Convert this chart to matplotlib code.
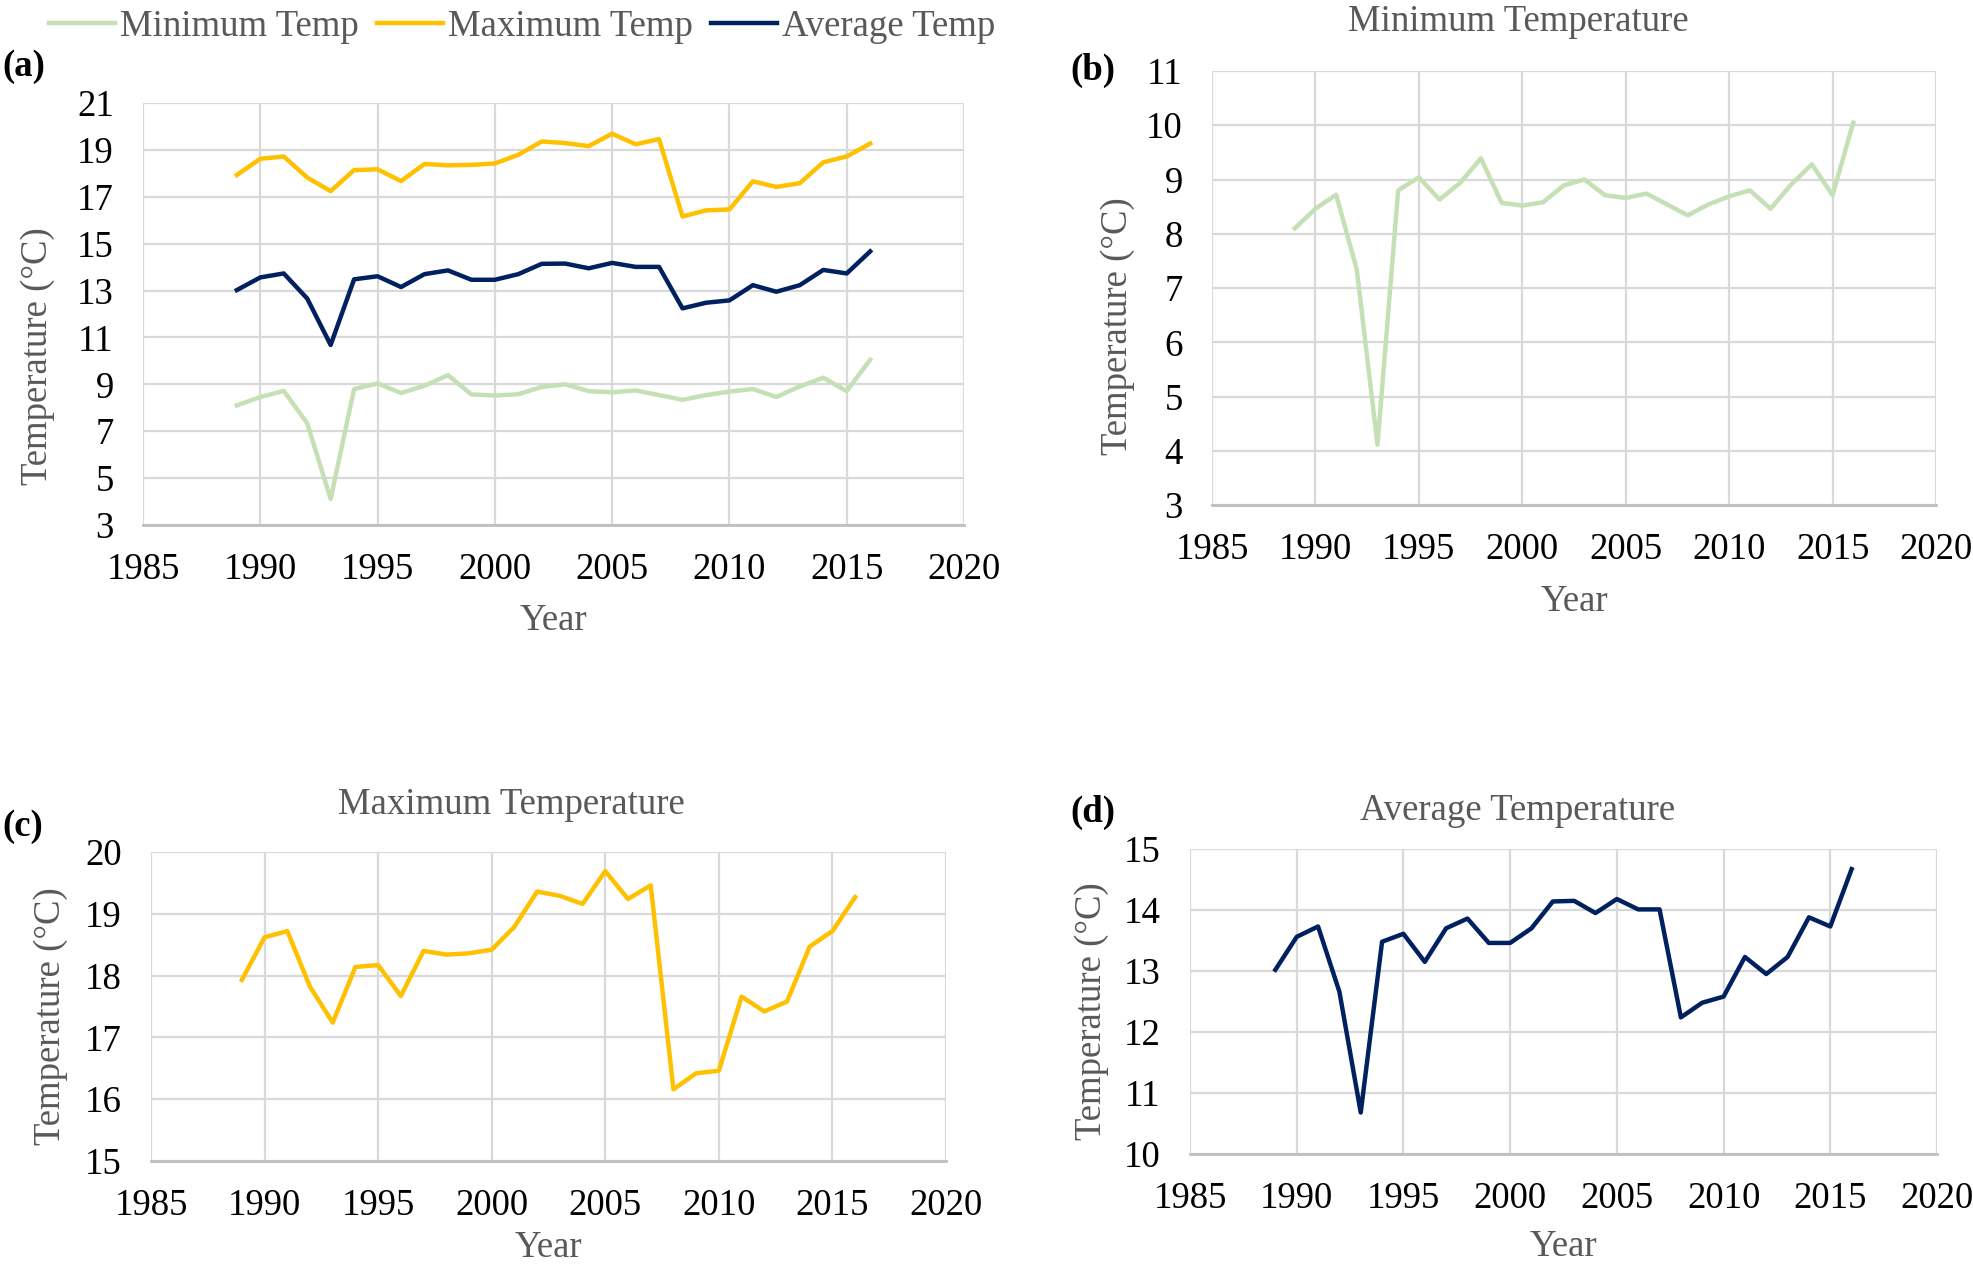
import matplotlib
matplotlib.use("Agg")
import matplotlib.pyplot as plt

plt.rcParams["font.family"] = ["Liberation Serif", "DejaVu Serif"]

years = list(range(1989, 2017))

min_temp = [8.10, 8.46, 8.72, 7.34, 4.11, 8.80, 9.04, 8.63, 8.94, 9.39,
            8.57, 8.52, 8.58, 8.89, 9.00, 8.71, 8.66, 8.74, 8.54, 8.34,
            8.54, 8.69, 8.80, 8.46, 8.91, 9.28, 8.71, 10.05]
max_temp = [17.93, 18.62, 18.72, 17.82, 17.24, 18.14, 18.17, 17.67, 18.40, 18.34,
            18.36, 18.42, 18.79, 19.36, 19.29, 19.16, 19.69, 19.24, 19.46, 16.16,
            16.42, 16.46, 17.66, 17.42, 17.58, 18.47, 18.72, 19.27]
avg_temp = [13.02, 13.56, 13.73, 12.66, 10.68, 13.48, 13.61, 13.15, 13.70, 13.86,
            13.46, 13.46, 13.70, 14.14, 14.15, 13.95, 14.18, 14.01, 14.01, 12.24,
            12.48, 12.58, 13.23, 12.95, 13.23, 13.88, 13.73, 14.67]

series_names = ["Minimum Temp", "Maximum Temp", "Average Temp"]
colors = ["#c5e0b4", "#ffc000", "#002060"]

W, H = 1973, 1270
FS = 26.5
GRAY = "#595959"
GRID = "#d9d9d9"
LW = 3.2


def px_rect(left, right, top, bottom):
    return [left / W, (H - bottom) / H, (right - left) / W, (bottom - top) / H]


def style(ax, yticks, ylab_xy, xlab_y):
    ax.set_xlim(1985, 2020)
    ax.set_xticks(range(1985, 2021, 5))
    ax.set_ylim(yticks[0], yticks[-1])
    ax.set_yticks(yticks)
    ax.grid(True, color=GRID, linewidth=1.6)
    ax.set_axisbelow(True)
    for s in ["top", "right", "left"]:
        ax.spines[s].set_visible(False)
    ax.spines["bottom"].set_color("#bfbfbf")
    ax.spines["bottom"].set_linewidth(2.0)
    ax.tick_params(length=0, labelsize=FS, labelcolor="black")
    ax.tick_params(axis="x", pad=20)
    ax.tick_params(axis="y", pad=21)
    ax.set_ylabel("Temperature (°C)", fontsize=FS, color=GRAY)
    ax.yaxis.set_label_coords(*ylab_xy)
    ax.set_xlabel("Year", fontsize=FS, color=GRAY)
    ax.xaxis.set_label_coords(0.5, xlab_y)
    ax.xaxis.label.set_va("center")
    ax.yaxis.label.set_va("center")


fig = plt.figure(figsize=(W / 100, H / 100), dpi=100)

# (a) all three series
ax_a = fig.add_axes(px_rect(143, 964, 103, 525))
for vals, name, c in zip([min_temp, max_temp, avg_temp], series_names, colors):
    ax_a.plot(years, vals, color=c, lw=LW, label=name)
style(ax_a, list(range(3, 22, 2)), (-0.128, 0.40), -0.228)
fig.legend(loc="center", bbox_to_anchor=(522 / W, 1 - 27 / H), ncol=3,
           frameon=False, fontsize=FS, handlelength=1.8, handletextpad=0.12,
           columnspacing=0.5, labelcolor=GRAY)

# (b) minimum
ax_b = fig.add_axes(px_rect(1212, 1936, 71, 505))
ax_b.plot(years, min_temp, color=colors[0], lw=LW)
style(ax_b, list(range(3, 12)), (-0.13, 0.412), -0.224)
ax_b.set_title("Minimum Temperature", fontsize=FS, color=GRAY, x=0.423, pad=29)

# (c) maximum
ax_c = fig.add_axes(px_rect(151, 946, 852, 1161))
ax_c.plot(years, max_temp, color=colors[1], lw=LW)
style(ax_c, list(range(15, 21)), (-0.126, 0.469), -0.28)
ax_c.set_title("Maximum Temperature", fontsize=FS, color=GRAY, x=0.453, pad=27)

# (d) average
ax_d = fig.add_axes(px_rect(1190, 1937, 849, 1154))
ax_d.plot(years, avg_temp, color=colors[2], lw=LW)
style(ax_d, list(range(10, 16)), (-0.132, 0.469), -0.305)
ax_d.set_title("Average Temperature", fontsize=FS, color=GRAY, x=0.438, pad=21)

for lab, x, y in [("(a)", 2, 66), ("(b)", 1070, 70), ("(c)", 2, 827), ("(d)", 1070, 812)]:
    fig.text(x / W, 1 - y / H, lab, fontsize=FS, fontweight="bold",
             ha="left", va="center")

fig.savefig("out.png", dpi=100)
